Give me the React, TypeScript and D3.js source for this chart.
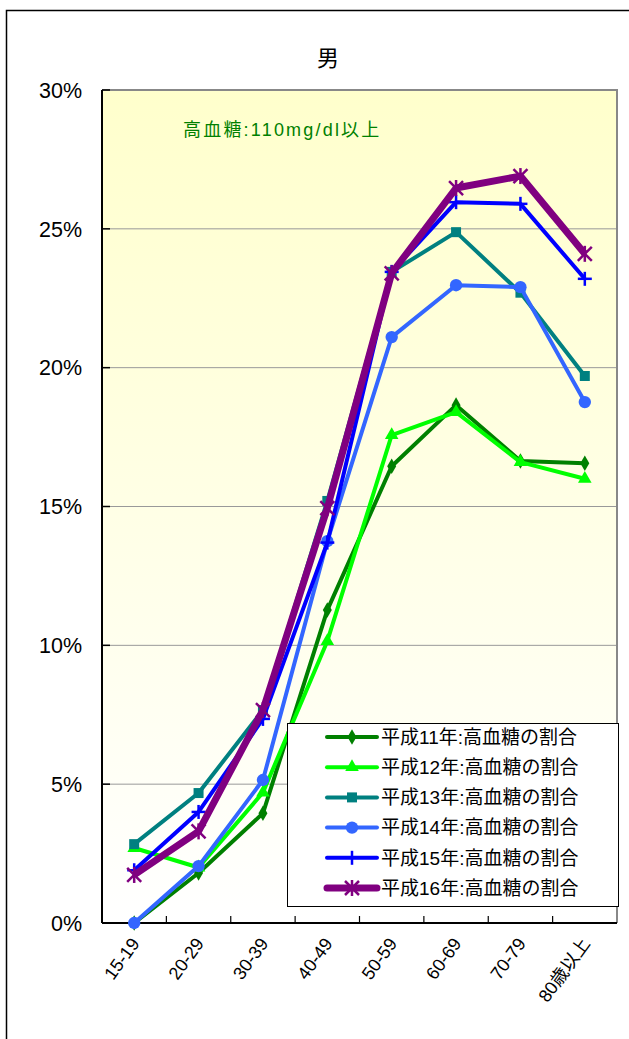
import React from 'react';
import * as d3 from 'd3';

const categories = ['15-19', '20-29', '30-39', '40-49', '50-59', '60-69', '70-79', '80歳以上'];
const seriesNames = [
  '平成11年:高血糖の割合',
  '平成12年:高血糖の割合',
  '平成13年:高血糖の割合',
  '平成14年:高血糖の割合',
  '平成15年:高血糖の割合',
  '平成16年:高血糖の割合',
];
const h11 = [0.0, 1.8, 3.95, 11.27, 16.45, 18.65, 16.64, 16.56];
const h12 = [2.7, 2.0, 4.7, 10.15, 17.57, 18.4, 16.6, 16.0];
const h13 = [2.84, 4.68, 7.67, 15.2, 23.45, 24.88, 22.7, 19.7];
const h14 = [0.0, 2.05, 5.15, 13.75, 21.1, 22.97, 22.9, 18.76];
const h15 = [1.9, 4.0, 7.35, 13.7, 23.45, 25.96, 25.9, 23.2];
const h16 = [1.73, 3.3, 7.67, 14.94, 23.4, 26.47, 26.9, 24.1];
const yTicks = [0, 5, 10, 15, 20, 25, 30];

const seriesValues = [h11, h12, h13, h14, h15, h16];
const colors = ['#008000', '#00FF00', '#008080', '#3366FF', '#0000FF', '#800080'];
const markers = ['diamond', 'triangle', 'square', 'circle', 'plus', 'star'];
const widths = [4, 4, 4, 4, 4, 7];

const W = 629;
const H = 1039;
const plotL = 102;
const plotR = 617;
const plotT = 90;
const plotB = 923;

const FONT = '"Liberation Sans", Arial, "Noto Sans CJK JP", sans-serif';
const CJK = '"Noto Sans CJK JP", "Liberation Sans", sans-serif';

function Marker({ kind, x, y, color }: { kind: string; x: number; y: number; color: string }) {
  if (kind === 'plus') {
    const s = 7;
    return (
      <g stroke={color} strokeWidth={2.5}>
        <line x1={x - s} x2={x + s} y1={y} y2={y} />
        <line x1={x} x2={x} y1={y - s} y2={y + s} />
      </g>
    );
  }
  if (kind === 'star') {
    const s = 7;
    return (
      <g stroke={color} strokeWidth={2.5}>
        <line x1={x - s} x2={x + s} y1={y - s} y2={y + s} />
        <line x1={x - s} x2={x + s} y1={y + s} y2={y - s} />
        <line x1={x} x2={x} y1={y - s - 1} y2={y + s + 1} />
      </g>
    );
  }
  const type =
    kind === 'diamond' ? d3.symbolDiamond : kind === 'triangle' ? d3.symbolTriangle : kind === 'square' ? d3.symbolSquare : d3.symbolCircle;
  const size = kind === 'diamond' ? 70 : kind === 'triangle' ? 80 : kind === 'square' ? 100 : 120;
  const p = d3.symbol().type(type).size(size)() as string;
  return <path d={p} transform={`translate(${x},${y})`} fill={color} />;
}

export default function App() {
  const x = d3.scaleBand<string>().domain(categories).range([plotL, plotR]);
  const bw = x.bandwidth();
  const cx = (c: string) => (x(c) as number) + bw / 2;
  const y = d3.scaleLinear().domain([0, 30]).range([plotB, plotT]);
  const line = d3
    .line<number>()
    .x((_, i) => cx(categories[i]))
    .y((v) => y(v));

  const legX = 287;
  const legY = 723;
  const legW = 331;
  const legH = 183;
  const rowH = 30.2;

  return (
    <svg width={W} height={H} style={{ position: 'absolute', left: 0, top: 0, display: 'block', background: '#fff' }}>
      <defs>
        <linearGradient id="bg" x1="0" y1="0" x2="0" y2="1">
          <stop offset="0" stopColor="#FFFFCC" />
          <stop offset="1" stopColor="#FFFFFF" />
        </linearGradient>
      </defs>
      <path d={`M6.5,${H} V10.5 H${W}`} fill="none" stroke="#000" strokeWidth={1.5} />
      <text x={328} y={66} textAnchor="middle" fontFamily={CJK} fontSize={22} fill="#000">
        男
      </text>
      <rect x={plotL} y={plotT} width={plotR - plotL} height={plotB - plotT} fill="url(#bg)" />
      {yTicks
        .filter((t) => t > 0 && t < 30)
        .map((t) => (
          <line key={t} x1={plotL} x2={plotR} y1={y(t)} y2={y(t)} stroke="#999" strokeWidth={1} />
        ))}
      <path d={`M${plotL},${plotT} H${plotR} V${plotB}`} fill="none" stroke="#888" strokeWidth={2} />
      <line x1={plotL} x2={plotL} y1={plotT} y2={plotB} stroke="#000" strokeWidth={2} />
      <line x1={plotL} x2={plotR} y1={plotB} y2={plotB} stroke="#000" strokeWidth={2} />
      {yTicks.map((t) => (
        <g key={t}>
          <line x1={plotL} x2={plotL + 8} y1={y(t)} y2={y(t)} stroke="#000" strokeWidth={1.5} />
          <text x={82} y={y(t)} dy="0.36em" textAnchor="end" fontFamily={FONT} fontSize={21.5} fill="#000">
            {t}%
          </text>
        </g>
      ))}
      {categories.slice(1).map((c) => (
        <line key={c} x1={x(c) as number} x2={x(c) as number} y1={plotB} y2={plotB - 7} stroke="#000" strokeWidth={1.2} />
      ))}
      {categories.map((c) => (
        <text
          key={c}
          transform={`translate(${cx(c) + 1},${plotB + 17}) rotate(-54)`}
          textAnchor="end"
          dy="0.35em"
          fontFamily={FONT}
          fontSize={18}
          fill="#000"
        >
          {c}
        </text>
      ))}
      <text x={183} y={136} fontFamily={FONT} fontSize={18} letterSpacing={2.2} fill="#008000">
        高血糖:110mg/dl以上
      </text>
      {seriesValues.map((vals, si) => (
        <g key={si}>
          <path d={line(vals) as string} fill="none" stroke={colors[si]} strokeWidth={widths[si]} strokeLinejoin="round" />
          {vals.map((v, i) => (
            <Marker key={i} kind={markers[si]} x={cx(categories[i])} y={y(v)} color={colors[si]} />
          ))}
        </g>
      ))}
      <rect x={legX + 0.5} y={legY + 0.5} width={legW} height={legH} fill="#fff" stroke="#000" strokeWidth={1} />
      {seriesNames.map((n, i) => {
        const ry = legY + 14 + i * rowH;
        return (
          <g key={n}>
            <line x1={327} x2={377} y1={ry} y2={ry} stroke={colors[i]} strokeWidth={widths[i]} strokeLinecap="round" />
            <Marker kind={markers[i]} x={352} y={ry} color={colors[i]} />
            <text x={381} y={ry} dy="0.36em" fontFamily={FONT} fontSize={19} fill="#000">
              {n}
            </text>
          </g>
        );
      })}
    </svg>
  );
}
